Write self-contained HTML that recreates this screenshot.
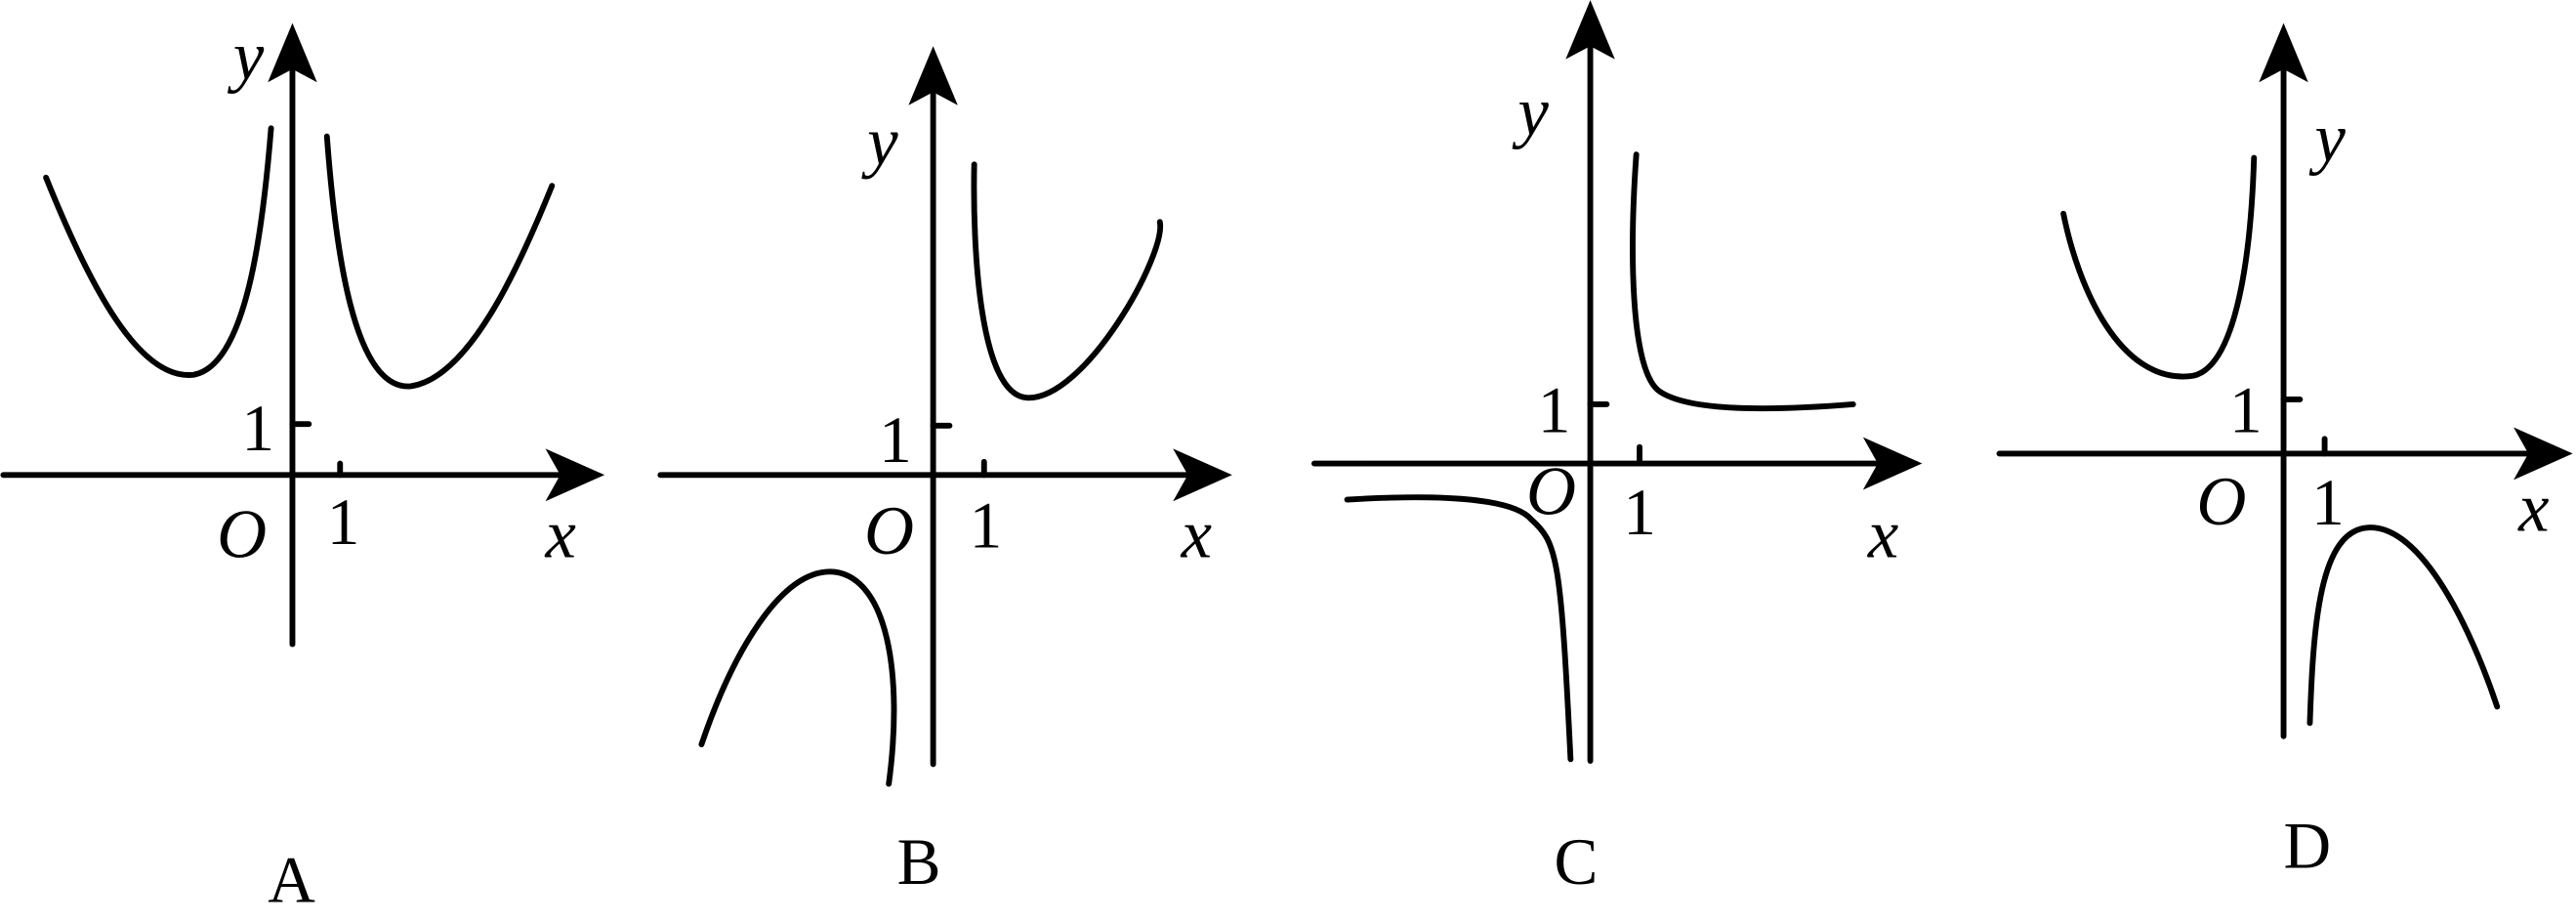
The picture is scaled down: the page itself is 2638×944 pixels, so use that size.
<!DOCTYPE html>
<html><head><meta charset="utf-8"><style>
html,body{margin:0;padding:0;background:#fff;}
svg{display:block;}
text{font-family:"Liberation Serif",serif;fill:#000;}
.it{font-style:italic;font-size:42px;}
</style></head><body>
<svg width="2638" height="944" viewBox="0 0 1568 561" xmlns="http://www.w3.org/2000/svg">
<g stroke="#000" stroke-width="3.5" fill="none" stroke-linecap="round">
<!-- A -->
<line x1="2" y1="289" x2="350" y2="289"/>
<line x1="178" y1="392" x2="178" y2="30"/>
<line x1="178" y1="258" x2="188" y2="258"/>
<line x1="207" y1="282" x2="207" y2="289"/>
<path d="M28,108 C55,175 85,232 118,228 C150,222 160,140 165,78"/>
<path d="M199,83 C204,150 215,238 250,235 C285,230 315,165 336,113"/>
<!-- B -->
<line x1="402" y1="289" x2="735" y2="289"/>
<line x1="568" y1="465" x2="568" y2="45"/>
<line x1="568" y1="259" x2="578" y2="259"/>
<line x1="599" y1="281" x2="599" y2="289"/>
<path d="M593,100 C592,150 596,240 625,242 C660,244 710,155 706,135"/>
<path d="M427,453 C445,400 475,345 508,348 C540,352 550,410 541,477"/>
<!-- C -->
<line x1="800" y1="282" x2="1150" y2="282"/>
<line x1="968" y1="463" x2="968" y2="20"/>
<line x1="968" y1="246" x2="978" y2="246"/>
<line x1="998" y1="272" x2="998" y2="282"/>
<path d="M996,94 C992,150 992,225 1010,238 C1030,252 1090,249 1128,246"/>
<path d="M820,304 C870,301 920,302 932,316 C948,330 950,340 956,462"/>
<!-- D -->
<line x1="1217" y1="276" x2="1550" y2="276"/>
<line x1="1390" y1="448" x2="1390" y2="30"/>
<line x1="1390" y1="243" x2="1400" y2="243"/>
<line x1="1415" y1="267" x2="1415" y2="276"/>
<path d="M1256,130 C1265,175 1290,232 1332,229 C1360,228 1370,160 1372,96"/>
<path d="M1406,440 C1408,380 1412,322 1442,321 C1475,320 1505,385 1520,430"/>
</g>
<g fill="#000">
<polygon points="368,289 332,273 341,289 332,305"/>
<polygon points="178,14 163,50 178,42 193,50"/>
<polygon points="750,289 714,273 723,289 714,305"/>
<polygon points="568,28 553,64 568,56 583,64"/>
<polygon points="1170,282 1134,266 1143,282 1134,298"/>
<polygon points="968,0 953,36 968,28 983,36"/>
<polygon points="1566,276 1530,260 1539,276 1530,292"/>
<polygon points="1390,14 1375,50 1390,42 1405,50"/>
</g>
<g font-size="40">
<text x="147" y="274">1</text>
<text x="199" y="331">1</text>
<text class="it" x="132" y="339">O</text>
<text class="it" x="332" y="339">x</text>
<text class="it" x="142" y="48">y</text>
<text x="163" y="549">A</text>

<text x="535" y="281">1</text>
<text x="590" y="333">1</text>
<text class="it" x="526" y="337">O</text>
<text class="it" x="719" y="339">x</text>
<text class="it" x="528" y="100">y</text>
<text x="546" y="538">B</text>

<text x="936" y="263">1</text>
<text x="988" y="325">1</text>
<text class="it" x="929" y="313">O</text>
<text class="it" x="1137" y="339">x</text>
<text class="it" x="924" y="82">y</text>
<text x="946" y="538">C</text>

<text x="1357" y="263">1</text>
<text x="1407" y="319">1</text>
<text class="it" x="1337" y="319">O</text>
<text class="it" x="1533" y="323">x</text>
<text class="it" x="1409" y="98">y</text>
<text x="1390" y="528">D</text>
</g>
</svg>
</body></html>
